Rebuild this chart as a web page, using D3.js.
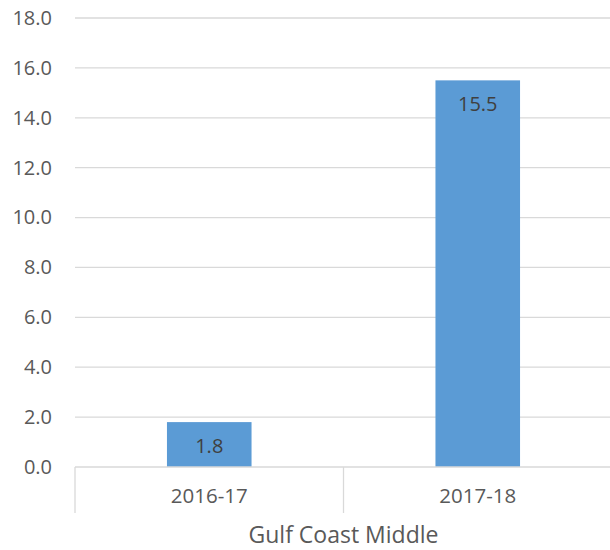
<!DOCTYPE html>
<html>
<head>
<meta charset="utf-8">
<script src="https://cdn.jsdelivr.net/npm/d3@7"></script>
<style>
  body { margin: 0; background: #fff; }
  text { font-family: "Open Sans", "Noto Sans", sans-serif; fill: #595959; }
</style>
</head>
<body>
<div id="chart"></div>
<script>
// data
const categories = ["2016-17", "2017-18"];
const values = [1.8, 15.5];
const yTicks = [0, 2, 4, 6, 8, 10, 12, 14, 16, 18];
const groupLabel = "Gulf Coast Middle";

const width = 610, height = 550;
const mLeft = 75, mRight = 612, mTop = 18, mBottom = 467;

const svg = d3.select("#chart").append("svg")
  .attr("width", width).attr("height", height);

const y = d3.scaleLinear().domain([0, 18]).range([mBottom, mTop]);
const x = d3.scaleBand().domain(categories).range([mLeft, mRight])
  .paddingInner(0.685).paddingOuter(0.3425);

// gridlines
svg.append("g").selectAll("line")
  .data(yTicks.filter(d => d > 0))
  .enter().append("line")
  .attr("x1", mLeft).attr("x2", mRight)
  .attr("y1", d => y(d)).attr("y2", d => y(d))
  .attr("stroke", "#d9d9d9").attr("stroke-width", 1.3);

// y labels
const yAxis = d3.axisLeft(y).tickValues(yTicks).tickFormat(d3.format(".1f")).tickSize(0).tickPadding(23);
const gy = svg.append("g").attr("transform", "translate(" + mLeft + ",0)").call(yAxis);
gy.select(".domain").remove();
gy.selectAll("text").style("font-size", "20px").attr("fill", "#595959")
  .style("font-family", "'Open Sans', 'Noto Sans', sans-serif");

// bars
svg.selectAll("rect.bar")
  .data(values)
  .enter().append("rect")
  .attr("class", "bar")
  .attr("x", (d, i) => x(categories[i]))
  .attr("width", x.bandwidth())
  .attr("y", d => y(d))
  .attr("height", d => y(0) - y(d))
  .attr("fill", "#5b9bd5");

// value labels
svg.selectAll("text.val")
  .data(values)
  .enter().append("text")
  .attr("class", "val")
  .attr("x", (d, i) => x(categories[i]) + x.bandwidth() / 2)
  .attr("y", d => y(d) + 31)
  .attr("text-anchor", "middle")
  .style("font-size", "20px")
  .style("fill", "#404040")
  .text(d => d.toFixed(1));

// x axis baseline
svg.append("line")
  .attr("x1", mLeft).attr("x2", mRight)
  .attr("y1", mBottom).attr("y2", mBottom)
  .attr("stroke", "#d9d9d9").attr("stroke-width", 1.3);

// category dividers
const dividers = [mLeft, mLeft + (mRight - mLeft) / 2, mRight];
svg.append("g").selectAll("line")
  .data(dividers)
  .enter().append("line")
  .attr("x1", d => d).attr("x2", d => d)
  .attr("y1", mBottom).attr("y2", 513)
  .attr("stroke", "#d9d9d9").attr("stroke-width", 1.3);

// category labels
svg.selectAll("text.cat")
  .data(categories)
  .enter().append("text")
  .attr("class", "cat")
  .attr("x", d => x(d) + x.bandwidth() / 2)
  .attr("y", 503)
  .attr("text-anchor", "middle")
  .style("font-size", "20.5px")
  .text(d => d);

svg.append("text")
  .attr("x", mLeft + (mRight - mLeft) / 2)
  .attr("y", 543)
  .attr("text-anchor", "middle")
  .style("font-size", "23px")
  .text(groupLabel);
</script>
</body>
</html>
